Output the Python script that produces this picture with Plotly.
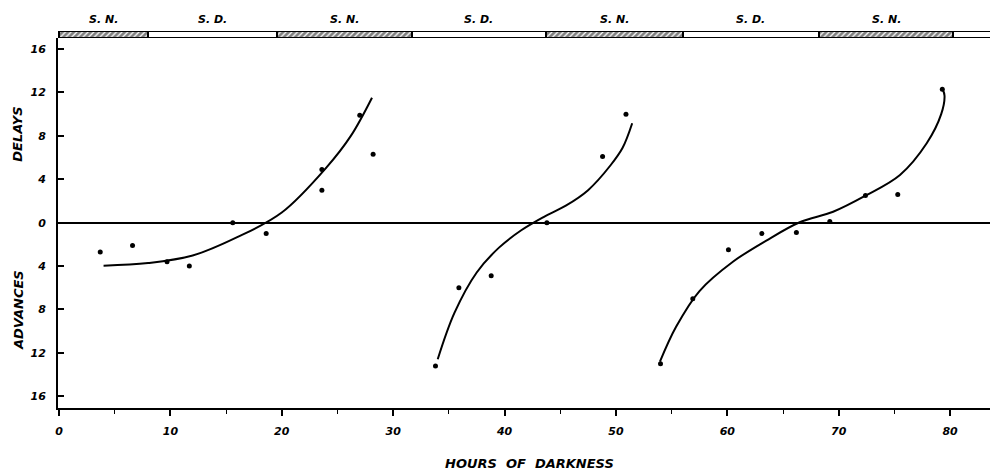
import plotly.graph_objects as go

# ---- data ----
pts_x = [3.7, 6.6, 9.7, 11.7, 15.6, 18.6, 23.6, 23.6, 27.0, 28.2,
         33.8, 35.9, 38.8, 43.8, 48.8, 50.9,
         54.0, 56.9, 60.1, 63.1, 66.2, 69.2, 72.4, 75.3, 79.3]
pts_y = [-2.7, -2.1, -3.6, -4.0, 0.0, -1.0, 4.9, 3.0, 9.9, 6.3,
         -13.2, -6.0, -4.9, 0.0, 6.1, 10.0,
         -13.0, -7.0, -2.5, -1.0, -0.9, 0.1, 2.5, 2.6, 12.3]

curve1_x = [4.0, 8.0, 12.0, 16.0, 20.0, 24.0, 26.2, 28.1]
curve1_y = [-3.96, -3.72, -3.03, -1.34, 0.94, 5.08, 8.0, 11.52]

curve2_x = [34.0, 35.5, 37.5, 39.5, 41.5, 43.5, 45.5, 47.5, 49.5, 50.6, 51.46]
curve2_y = [-12.59, -8.32, -4.59, -2.3, -0.70, 0.52, 1.57, 3.0, 5.27, 6.9, 9.16]

curve3_x = [53.95, 55.4, 57.5, 60.5, 63.5, 66.5, 69.5, 72.4, 75.5, 77.9, 79.2, 79.5, 79.35]
curve3_y = [-12.81, -9.6, -6.3, -3.6, -1.65, 0.04, 1.01, 2.49, 4.4, 7.32, 10.0, 11.7, 12.25]

band_start = [0, 8, 19.6, 31.7, 43.7, 56, 68.2, 80.3]
band_end = [8, 19.6, 31.7, 43.7, 56, 68.2, 80.3, 84.4]
band_label = ["S. N.", "S. D.", "S. N.", "S. D.", "S. N.", "S. D.", "S. N.", ""]

x_tick_vals = [0, 10, 20, 30, 40, 50, 60, 70, 80]
y_tick_vals = [-16, -12, -8, -4, 0, 4, 8, 12, 16]
y_tick_text = ["16", "12", "8", "4", "0", "4", "8", "12", "16"]

FONT = "DejaVu Sans"
# the page body adds an 8px offset, so the figure is 8px smaller than the window
W, H = 990, 463
ML, MT, MB, MR = 50, 22, 63, 0
PW = W - ML - MR

fig = go.Figure()

for cx, cy in [(curve1_x, curve1_y), (curve2_x, curve2_y), (curve3_x, curve3_y)]:
    fig.add_trace(go.Scatter(x=cx, y=cy, mode="lines",
                             line=dict(color="black", width=2, shape="spline", smoothing=1.0),
                             showlegend=False, hoverinfo="skip"))

fig.add_trace(go.Scatter(x=pts_x, y=pts_y, mode="markers",
                         marker=dict(color="black", size=5),
                         showlegend=False))

# photoperiod band
widths = [e - s for s, e in zip(band_start, band_end)]
shapes_pat = ["/" if lab == "S. N." else "" for lab in band_label]
fig.add_trace(go.Bar(x=widths, base=band_start, y=[0] * len(widths), orientation="h",
                     yaxis="y2", width=1,
                     marker=dict(color="white",
                                 line=dict(color="black", width=2),
                                 pattern=dict(shape=shapes_pat, fgcolor="black", bgcolor="white",
                                              size=4, solidity=0.7)),
                     showlegend=False, hoverinfo="skip"))

lab_font = dict(family=FONT, size=11, color="black", weight="bold", style="italic")
title_font = dict(family=FONT, size=13, color="black", weight="bold", style="italic")

annotations = []
for s, e, lab in zip(band_start, band_end, band_label):
    if lab:
        annotations.append(dict(x=(s + e) / 2, xref="x", y=1, yref="paper",
                                text=lab, showarrow=False, yanchor="middle", yshift=10.5,
                                font=lab_font))

annotations.append(dict(x=(10 - ML) / PW, xref="paper", y=8.1, yref="y", text="DELAYS",
                        textangle=-90, showarrow=False, xanchor="center", font=title_font))
annotations.append(dict(x=(10 - ML) / PW, xref="paper", y=-8.05, yref="y", text="ADVANCES",
                        textangle=-90, showarrow=False, xanchor="center", font=title_font))
annotations.append(dict(x=(521 - ML) / PW, xref="paper", y=0, yref="paper", yshift=-55,
                        text="HOURS  OF  DARKNESS", showarrow=False, yanchor="middle",
                        font=title_font))

tickfont = dict(family=FONT, size=11, color="black", weight="bold", style="italic")

fig.update_layout(
    width=W, height=H,
    margin=dict(l=ML, r=MR, t=MT, b=MB, autoexpand=False),
    paper_bgcolor="white", plot_bgcolor="white",
    xaxis=dict(range=[-0.09, 84.3], tickvals=x_tick_vals, ticks="outside", ticklen=6,
               tickwidth=1.5, tickcolor="black", showline=True, linecolor="black", linewidth=2,
               showgrid=False, zeroline=False, tickfont=tickfont, automargin=False,
               ticklabelstandoff=6,
               minor=dict(dtick=5, tick0=0, ticks="outside", ticklen=4, tickwidth=1.2,
                          tickcolor="black", showgrid=False)),
    yaxis=dict(range=[-17.08, 17.02], domain=[0, 0.9788], tickvals=y_tick_vals,
               ticktext=y_tick_text, ticks="inside", ticklen=6, tickwidth=1.5,
               tickcolor="black", showline=True, linecolor="black", linewidth=2,
               showgrid=False, zeroline=True, zerolinecolor="black", zerolinewidth=1.5,
               tickfont=tickfont, automargin=False, ticklabelstandoff=8),
    yaxis2=dict(domain=[0.9788, 0.9974], range=[-0.5, 0.5], visible=False, fixedrange=True,
                automargin=False),
    annotations=annotations,
    bargap=0,
)

fig.write_html("out.html")
